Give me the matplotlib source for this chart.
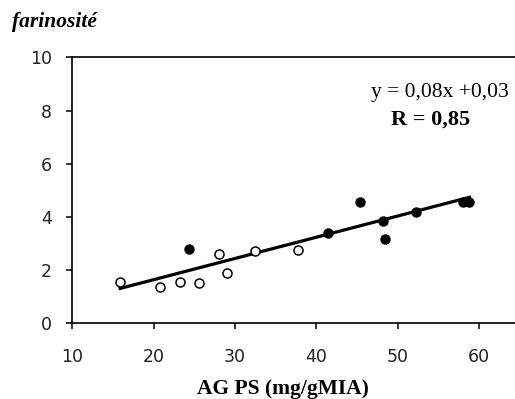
import numpy as np
import matplotlib.pyplot as plt

# farinosité en fonction de la teneur en AG PS
ag_ouvert = [15.9, 20.8, 23.2, 25.6, 28.1, 29.0, 32.5, 37.8]
far_ouvert = [1.53, 1.35, 1.53, 1.52, 2.58, 1.88, 2.72, 2.74]

ag_plein = [24.4, 41.4, 45.4, 48.2, 48.4, 52.2, 58.0, 58.8]
far_plein = [2.78, 3.38, 4.56, 3.83, 3.17, 4.18, 4.55, 4.55]

# droite de régression
pente, ordonnee = 0.08, 0.03

fig = plt.figure(figsize=(5.15, 3.99), dpi=100)
ax = fig.add_axes([0.140, 0.1905, 0.860, 0.6654])

x_tous = ag_ouvert + ag_plein
xr = np.array([min(x_tous), max(x_tous)])
ax.plot(xr, pente * xr + ordonnee, color='black', lw=2.3, zorder=2)

ax.plot(ag_ouvert, far_ouvert, 'o', ms=6.5, mfc='white', mec='black', mew=1.1, zorder=3)
ax.plot(ag_plein, far_plein, 'o', ms=6.5, mfc='black', mec='black', zorder=3)

ax.set_xlim(10, 64.4)
ax.set_ylim(0, 10)
ax.set_xticks([10, 20, 30, 40, 50, 60])
ax.set_yticks([0, 2, 4, 6, 8, 10])
ax.spines['right'].set_visible(False)
for s in ['top', 'left', 'bottom']:
    ax.spines[s].set_linewidth(1.2)
ax.tick_params(direction='out', length=4, width=1.1)
ax.tick_params(axis='x', pad=14)
ax.tick_params(axis='y', pad=10.5)
for lab in ax.get_xticklabels() + ax.get_yticklabels():
    lab.set_family(['Liberation Sans Narrow', 'DejaVu Sans'])
    lab.set_fontsize(12.5)
    lab.set_color('#222222')

ax.set_xlabel('AG PS (mg/gMIA)', family='Liberation Serif', fontweight='bold', fontsize=15.5, labelpad=6)
ax.xaxis.set_label_coords(0.476, -0.21)
fig.text(0.023, 0.945, 'farinosité', family='Liberation Serif', fontweight='bold',
         style='italic', fontsize=15.5, va='center', ha='left')

ax.text(0.985, 0.87, 'y = 0,08x +0,03', transform=ax.transAxes, ha='right', va='center',
        family='Liberation Serif', fontsize=15.5)
ax.text(0.81, 0.765, 'R = 0,85', transform=ax.transAxes, ha='center', va='center',
        family='Liberation Serif', fontweight='bold', fontsize=16)

fig.savefig('out.png', dpi=100)
